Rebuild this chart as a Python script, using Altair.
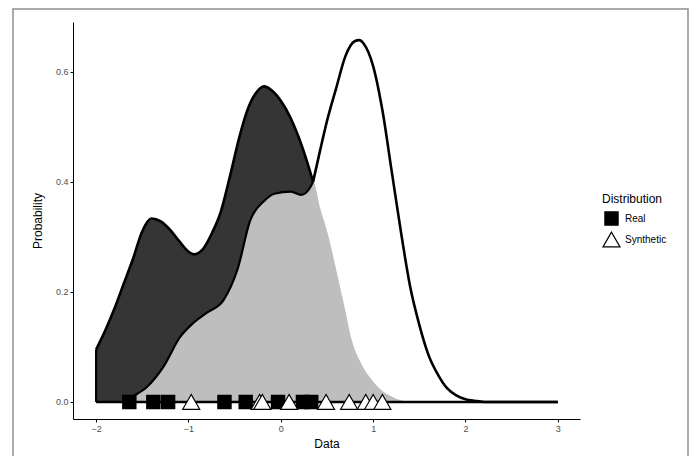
import altair as alt
import pandas as pd

# Real density (outer curve)
real_x = [-2.0, -1.9, -1.8, -1.7, -1.6, -1.5, -1.4, -1.3, -1.2, -1.1, -1.0, -0.94, -0.85, -0.75,
          -0.65, -0.55, -0.45, -0.35, -0.25, -0.18, -0.1, 0.0, 0.1, 0.2, 0.3, 0.35, 0.43, 0.5, 0.6, 0.7,
          0.8, 0.85, 0.9, 1.0, 1.1, 1.2, 1.3, 1.4, 1.5, 1.6, 1.7, 1.8, 1.9, 2.0, 2.1, 2.2, 3.0]
real_y = [0.095, 0.13, 0.17, 0.215, 0.26, 0.31, 0.333, 0.328, 0.313, 0.292, 0.273, 0.268, 0.276, 0.305,
          0.345, 0.41, 0.48, 0.535, 0.565, 0.573, 0.566, 0.547, 0.518, 0.478, 0.428, 0.40, 0.46, 0.51, 0.57, 0.628,
          0.655, 0.657, 0.65, 0.61, 0.53, 0.42, 0.31, 0.21, 0.14, 0.085, 0.05, 0.025, 0.012, 0.005, 0.002, 0.0, 0.0]

# Synthetic density (light grey)
syn_x = [-1.7, -1.6, -1.45, -1.27, -1.09, -0.95, -0.8, -0.62, -0.47, -0.33, -0.18, -0.07, 0.11, 0.22,
         0.3, 0.35, 0.43, 0.51, 0.6, 0.7, 0.76, 0.87, 0.95, 1.01, 1.1, 1.2, 1.3, 1.4]
syn_y = [0.0, 0.01, 0.027, 0.064, 0.118, 0.143, 0.162, 0.185, 0.24, 0.33, 0.365, 0.378, 0.382, 0.376,
         0.385, 0.40, 0.35, 0.305, 0.24, 0.165, 0.118, 0.07, 0.048, 0.035, 0.02, 0.01, 0.003, 0.0]

kink_x = 0.35  # where the two curves meet

# Observations
real_pts = [-1.64, -1.38, -1.22, -0.61, -0.38, -0.03, 0.24, 0.33]
syn_pts = [-0.97, -0.23, -0.2, 0.09, 0.49, 0.74, 0.92, 1.0, 1.1]

x_ticks = [-2, -1, 0, 1, 2, 3]
y_ticks = [0.0, 0.2, 0.4, 0.6]

real_df = pd.DataFrame({"x": real_x, "y": real_y})
seg_a = real_df[real_df.x <= kink_x].assign(seg="a")
seg_b = real_df[real_df.x >= kink_x].assign(seg="b")
line_df = pd.concat([seg_a, seg_b], ignore_index=True)
syn_df = pd.DataFrame({"x": syn_x, "y": syn_y})
pts_df = pd.DataFrame({
    "x": real_pts + syn_pts,
    "y": [0.0] * (len(real_pts) + len(syn_pts)),
    "Distribution": ["Real"] * len(real_pts) + ["Synthetic"] * len(syn_pts),
})
base_df = pd.DataFrame({"x": [real_x[0]], "x2": [real_x[-1]], "y": [0.0], "y2": [real_y[0]]})

xs = alt.Scale(domain=[-2.25, 3.24], nice=False)
ys = alt.Scale(domain=[-0.031, 0.69], nice=False)
X = alt.X("x:Q", scale=xs, title="Data",
          axis=alt.Axis(values=x_ticks, format="d", titlePadding=5))
Y = alt.Y("y:Q", scale=ys, title="Probability",
          axis=alt.Axis(values=y_ticks, format=".1f", titlePadding=11))

frame = alt.Chart(pd.DataFrame({"a": [0]})).mark_rect(
    fill="white", fillOpacity=0, stroke="#8f8f8f", strokeWidth=1.5, clip=False
).encode(x=alt.value(-60), x2=alt.value(615), y=alt.value(-13), y2=alt.value(480))

dark = alt.Chart(real_df).transform_filter(f"datum.x <= {kink_x}").mark_area(
    color="#353535", opacity=1, interpolate="monotone").encode(x=X, y=Y)
light = alt.Chart(syn_df).mark_area(color="#bebebe", opacity=1,
                                    interpolate="monotone").encode(x=X, y=Y)
outer = alt.Chart(line_df).mark_line(color="black", strokeWidth=2.6,
                                     interpolate="monotone").encode(
    x=X, y=Y, detail="seg:N")
inner = alt.Chart(syn_df).transform_filter(f"datum.x <= {kink_x}").mark_line(
    color="black", strokeWidth=2.2, interpolate="monotone").encode(x=X, y=Y)
baseline = alt.Chart(base_df).mark_rule(color="black", strokeWidth=2.6).encode(
    x=X, x2="x2:Q", y=Y)
left_edge = alt.Chart(base_df).mark_rule(color="black", strokeWidth=2.2).encode(
    x=X, y=Y, y2="y2:Q")

dom = ["Real", "Synthetic"]
points = alt.Chart(pts_df).mark_point(
    filled=True, strokeWidth=1.2, opacity=1
).encode(
    x=X, y=Y,
    shape=alt.Shape("Distribution:N", scale=alt.Scale(domain=dom, range=["square", "triangle-up"])),
    fill=alt.Fill("Distribution:N", scale=alt.Scale(domain=dom, range=["black", "white"])),
    stroke=alt.Stroke("Distribution:N", scale=alt.Scale(domain=dom, range=["black", "black"])),
    size=alt.Size("Distribution:N", scale=alt.Scale(domain=dom, range=[175, 290])),
)

chart = alt.layer(frame, dark, light, outer, inner, baseline, left_edge, points).properties(
    width=507, height=397,
    autosize=alt.AutoSizeParams(type="none"),
    padding={"left": 65, "top": 14, "right": 109, "bottom": 37},
    background="white",
).configure_view(stroke=None).configure_axis(
    grid=False, domainColor="black", domainWidth=1, tickColor="black", tickSize=3,
    labelColor="#4d4d4d", labelFontSize=9, labelFont="Liberation Sans",
    titleFont="Liberation Sans", titleFontSize=12, titleFontWeight="normal",
    titleColor="black", labelPadding=2,
).configure_legend(
    orient="none", legendX=529, legendY=172,
    titleFont="Liberation Sans", titleFontSize=12, titleFontWeight="normal", titleColor="black",
    labelFont="Liberation Sans", labelFontSize=10, labelColor="black",
    symbolStrokeWidth=1.2, rowPadding=1, titlePadding=5,
)

chart.save("out.html", embed_options={"renderer": "svg", "actions": False})
